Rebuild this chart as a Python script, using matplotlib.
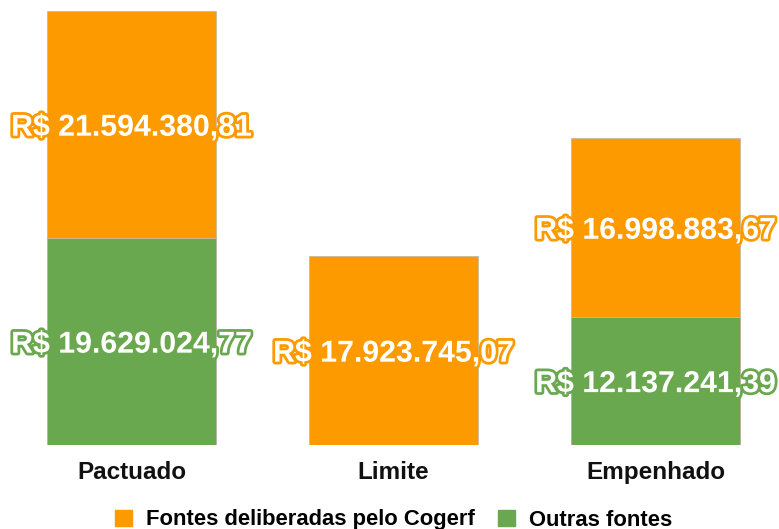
import matplotlib.pyplot as plt
import matplotlib.patheffects as pe
from matplotlib.patches import Patch

categorias = ["Pactuado", "Limite", "Empenhado"]
outras = [19629024.77, 0.0, 12137241.39]
cogerf = [21594380.81, 17923745.07, 16998883.67]
rotulos_outras = ["R$ 19.629.024,77", "", "R$ 12.137.241,39"]
rotulos_cogerf = ["R$ 21.594.380,81", "R$ 17.923.745,07", "R$ 16.998.883,67"]

laranja = "#fd9a00"
verde = "#6aa84f"
fonte = ["Liberation Sans", "DejaVu Sans"]

fig = plt.figure(figsize=(7.79, 5.29), dpi=100)
ax = fig.add_axes([0, 1 - 445 / 529, 1, 445 / 529])

x = range(len(categorias))
ax.bar(x, outras, width=0.645, color=verde, edgecolor="#b8b0a0", linewidth=0.6)
ax.bar(x, cogerf, width=0.645, bottom=outras, color=laranja, edgecolor="#c8b8a0", linewidth=0.6)

# rotulos brancos com contorno colorido
for i in x:
    if outras[i] > 0:
        ax.text(i, outras[i] / 2, rotulos_outras[i], ha="center", va="center_baseline",
                color="white", fontsize=21.8, fontweight="bold", family=fonte,
                path_effects=[pe.withStroke(linewidth=4, foreground=verde)])
    ax.text(i, outras[i] + cogerf[i] / 2, rotulos_cogerf[i], ha="center", va="center_baseline",
            color="white", fontsize=21.8, fontweight="bold", family=fonte,
            path_effects=[pe.withStroke(linewidth=4, foreground=laranja)])

ax.set_xlim(-0.502, 2.471)
ax.set_ylim(0, 42.27e6)
ax.axis("off")

for i, c in enumerate(categorias):
    ax.text(i, -2.6e6, c, ha="center", va="center", fontsize=17.5, fontweight="bold",
            family=fonte, color="#111111")

handles = [Patch(color=laranja), Patch(color=verde)]
fig.legend(handles, ["Fontes deliberadas pelo Cogerf", "Outras fontes"],
           loc="center", bbox_to_anchor=(393.5 / 779, 1 - 520 / 529), ncol=2, frameon=False,
           handlelength=0.77, handleheight=0.77, handletextpad=0.64, columnspacing=1.05,
           borderpad=0, borderaxespad=0,
           prop={"family": fonte, "weight": "bold", "size": 15.8})

fig.savefig("out.png", dpi=100)
